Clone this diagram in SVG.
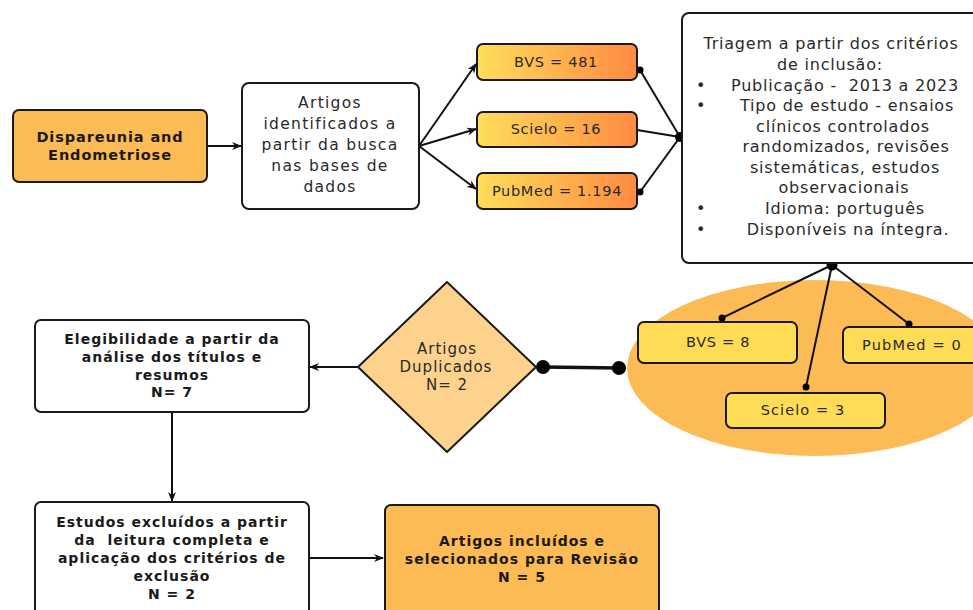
<svg xmlns="http://www.w3.org/2000/svg" width="973" height="610" viewBox="0 0 973 610">
<style>
.box{stroke:#1a1a1a;stroke-width:2}
.t{font-family:"DejaVu Sans","Noto Sans",sans-serif;font-size:14.5px;fill:#2a2a2a;text-anchor:middle;letter-spacing:0.7px}
.tr{font-family:"DejaVu Sans","Noto Sans",sans-serif;font-size:16px;fill:#2a2a2a;text-anchor:middle;letter-spacing:0.8px}
.b{font-family:"DejaVu Sans","Noto Sans",sans-serif;font-size:14px;font-weight:bold;fill:#1a1a1a;text-anchor:middle;letter-spacing:1px}
.c{stroke:#111;stroke-width:2;fill:none}
.dot{fill:#000}
</style>
<defs>
<linearGradient id="g" x1="0" x2="1" y1="0" y2="0">
<stop offset="0" stop-color="#ffde5a"/>
<stop offset="1" stop-color="#ff8a42"/>
</linearGradient>
<marker id="ar" viewBox="0 0 10 10" refX="9" refY="5" markerWidth="5" markerHeight="5" orient="auto" markerUnits="strokeWidth">
<path d="M0,1 L10,5 L0,9 L3,5 z" fill="#111"/>
</marker>
</defs>
<rect width="973" height="610" fill="#fff"/>

<ellipse id="bg-ellipse" cx="815" cy="368" rx="188" ry="88" fill="#fcbb55"/>

<g id="connectors">
<line class="c" x1="207" y1="146" x2="241" y2="146" marker-end="url(#ar)"/>
<line class="c" x1="419" y1="146" x2="476" y2="64" marker-end="url(#ar)"/>
<line class="c" x1="419" y1="146" x2="476" y2="129" marker-end="url(#ar)"/>
<line class="c" x1="419" y1="146" x2="476" y2="189" marker-end="url(#ar)"/>
<line class="c" x1="640" y1="70" x2="680" y2="137"/>
<line class="c" x1="637" y1="130" x2="680" y2="137"/>
<line class="c" x1="640" y1="192" x2="680" y2="137"/>
<circle class="dot" cx="640" cy="70" r="3.5"/>
<circle class="dot" cx="640" cy="192" r="3.5"/>
<circle class="dot" cx="680" cy="137" r="5"/>
<line class="c" x1="832" y1="265" x2="722" y2="318"/>
<line class="c" x1="832" y1="265" x2="806" y2="387"/>
<line class="c" x1="832" y1="265" x2="909" y2="324"/>
<circle class="dot" cx="832" cy="265" r="5.5"/>
<circle class="dot" cx="722" cy="318" r="3.5"/>
<circle class="dot" cx="806" cy="387" r="3.5"/>
<circle class="dot" cx="909" cy="324" r="3.5"/>
<line x1="543" y1="367" x2="619" y2="368" stroke="#111" stroke-width="3.5"/>
<circle class="dot" cx="543" cy="367" r="7"/>
<circle class="dot" cx="619" cy="368" r="7"/>
<line class="c" x1="358" y1="367" x2="310" y2="367" stroke-width="1.5" marker-end="url(#ar)"/>
<line class="c" x1="172" y1="412" x2="172" y2="501" stroke-width="1.5" marker-end="url(#ar)"/>
<line class="c" x1="309" y1="558" x2="383" y2="558" marker-end="url(#ar)"/>
</g>

<g id="dispareunia">
<rect class="box" x="13" y="110" width="194" height="72" rx="6" fill="#fcbb55"/>
<text class="b" x="110" y="142" style="font-size:14.5px;letter-spacing:0.9px">Dispareunia and</text>
<text class="b" x="110" y="160" style="font-size:14.5px;letter-spacing:0.9px">Endometriose</text>
</g>

<g id="identificados">
<rect class="box" x="242" y="83" width="177" height="126" rx="7" fill="#fff"/>
<text class="t" x="330" y="108" style="font-size:15.5px;letter-spacing:1.3px">Artigos</text>
<text class="t" x="330" y="129" style="font-size:15.5px;letter-spacing:1.3px">identificados a</text>
<text class="t" x="330" y="150" style="font-size:15.5px;letter-spacing:1.3px">partir da busca</text>
<text class="t" x="330" y="171" style="font-size:15.5px;letter-spacing:1.3px">nas bases de</text>
<text class="t" x="330" y="192" style="font-size:15.5px;letter-spacing:1.3px">dados</text>
</g>

<g id="bvs481">
<rect class="box" x="477" y="44" width="160" height="36" rx="6" fill="url(#g)"/>
<text class="t" x="556" y="67">BVS = 481</text>
</g>
<g id="scielo16">
<rect class="box" x="477" y="112" width="160" height="35" rx="6" fill="url(#g)"/>
<text class="t" x="556" y="134">Scielo = 16</text>
</g>
<g id="pubmed1194">
<rect class="box" x="477" y="173" width="160" height="36" rx="6" fill="url(#g)"/>
<text class="t" x="557" y="196">PubMed = 1.194</text>
</g>

<g id="triagem">
<rect class="box" x="682" y="13" width="300" height="250" rx="7" fill="#fff"/>
<text class="tr" x="831" y="49">Triagem a partir dos critérios</text>
<text class="tr" x="830" y="70">de inclusão:</text>
<text class="tr" x="701" y="91">•</text>
<text class="tr" x="845" y="91" xml:space="preserve">Publicação -  2013 a 2023</text>
<text class="tr" x="701" y="111">•</text>
<text class="tr" x="847" y="111">Tipo de estudo - ensaios</text>
<text class="tr" x="843" y="132">clínicos controlados</text>
<text class="tr" x="846" y="152">randomizados, revisões</text>
<text class="tr" x="845" y="173">sistemáticas, estudos</text>
<text class="tr" x="844" y="193">observacionais</text>
<text class="tr" x="701" y="214">•</text>
<text class="tr" x="845" y="214">Idioma: português</text>
<text class="tr" x="701" y="235">•</text>
<text class="tr" x="848" y="235">Disponíveis na íntegra.</text>
</g>

<g id="bvs8">
<rect class="box" x="638" y="322" width="159" height="41" rx="6" fill="#ffdc55"/>
<text class="t" x="718" y="347">BVS = 8</text>
</g>
<g id="pubmed0">
<rect class="box" x="843" y="327" width="145" height="36" rx="6" fill="#ffdc55"/>
<text class="t" x="912" y="350" style="letter-spacing:1.2px">PubMed = 0</text>
</g>
<g id="scielo3">
<rect class="box" x="726" y="393" width="159" height="35" rx="6" fill="#ffdc55"/>
<text class="t" x="803" y="415" style="letter-spacing:1.1px">Scielo = 3</text>
</g>

<g id="duplicados">
<path class="box" d="M447,282 L536,367 L447,452 L358,367 Z" fill="#fdd28c" stroke-linejoin="round"/>
<text class="t" x="447" y="354" style="font-size:15px;letter-spacing:1px">Artigos</text>
<text class="t" x="446" y="372" style="font-size:15px;letter-spacing:1px">Duplicados</text>
<text class="t" x="447" y="390" style="font-size:15px;letter-spacing:1px">N= 2</text>
</g>

<g id="elegibilidade">
<rect class="box" x="35" y="320" width="274" height="92" rx="6" fill="#fff"/>
<text class="b" x="172" y="344">Elegibilidade a partir da</text>
<text class="b" x="172" y="362">análise dos títulos e</text>
<text class="b" x="172" y="380">resumos</text>
<text class="b" x="172" y="397">N= 7</text>
</g>

<g id="excluidos">
<rect class="box" x="35" y="502" width="274" height="120" rx="6" fill="#fff"/>
<text class="b" x="172" y="527">Estudos excluídos a partir</text>
<text class="b" x="172" y="545" xml:space="preserve">da  leitura completa e</text>
<text class="b" x="172" y="563">aplicação dos critérios de</text>
<text class="b" x="172" y="581">exclusão</text>
<text class="b" x="172" y="599">N = 2</text>
</g>

<g id="incluidos">
<rect class="box" x="385" y="505" width="274" height="117" rx="6" fill="#fcbb55"/>
<text class="b" x="522" y="546">Artigos incluídos e</text>
<text class="b" x="522" y="564">selecionados para Revisão</text>
<text class="b" x="522" y="582">N = 5</text>
</g>
</svg>
